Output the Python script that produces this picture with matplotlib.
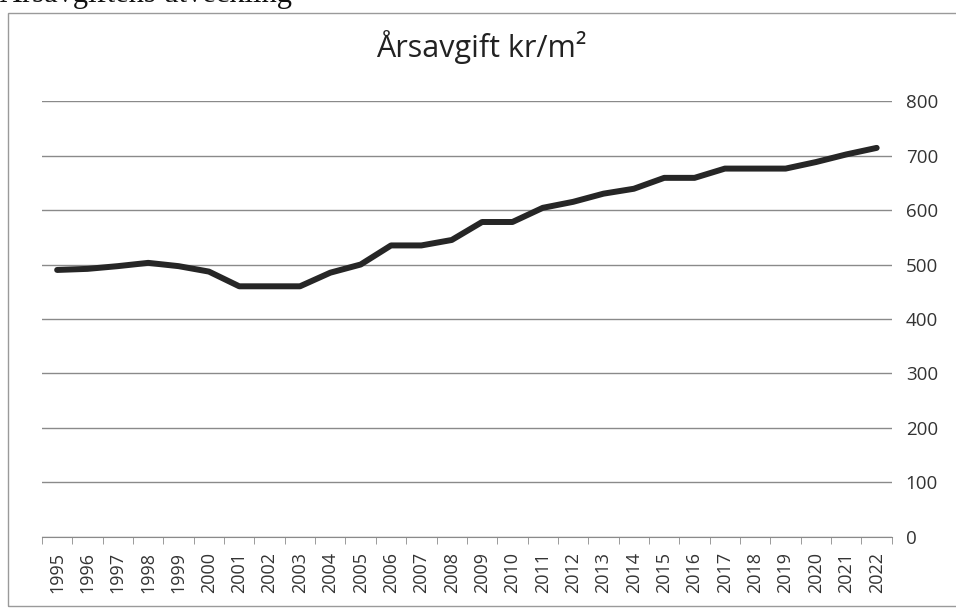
import matplotlib.pyplot as plt
from matplotlib.patches import Rectangle

# Årsavgift kr/m² per år
years = list(range(1995, 2023))
fee = [490, 492, 497, 503, 497, 487, 460, 460, 460, 485, 500, 535, 535, 545,
       578, 578, 604, 615, 630, 639, 659, 659, 676, 676, 676, 688, 702, 714]
yticks = [0, 100, 200, 300, 400, 500, 600, 700, 800]

fig = plt.figure(figsize=(9.56, 6.1), dpi=100)
ax = fig.add_axes([0.0439, 0.1197, 0.889, 0.7147])

x = range(len(years))
ax.plot(x, fee, color='#262626', linewidth=4.3, solid_joinstyle='round',
        solid_capstyle='round', zorder=3)

ax.set_xlim(-0.5, len(years) - 0.5)
ax.set_ylim(0, 800)
ax.set_yticks(yticks)
ax.yaxis.tick_right()
ax.tick_params(axis='y', length=0, pad=10, labelsize=13.5, labelcolor='#333333')
ax.grid(axis='y', color='#8a8a8a', linewidth=1.0)
ax.set_axisbelow(True)

# kategoriaxel: etiketter i mitten, streck mellan kategorierna
ax.set_xticks(list(x))
ax.set_xticklabels([str(y) for y in years], rotation=90, fontsize=13,
                   color='#333333')
ax.tick_params(axis='x', length=0, pad=11)
ax.set_xticks([i - 0.5 for i in range(len(years) + 1)], minor=True)
ax.tick_params(axis='x', which='minor', length=5, color='#8a8a8a')

for s in ['top', 'right', 'left']:
    ax.spines[s].set_visible(False)
ax.spines['bottom'].set_color('#8a8a8a')

for t in ax.get_xticklabels() + ax.get_yticklabels():
    t.set_fontfamily('Open Sans')

fig.text(0.503, 1 - 47 / 610, 'Årsavgift kr/m²', ha='center', va='center',
         fontsize=22, fontfamily='Open Sans', color='#222222')

# ram runt diagrammet
fig.patches.append(Rectangle((8 / 956, 4 / 610), 1.2, 593 / 610,
                             transform=fig.transFigure, fill=False,
                             edgecolor='#9a9a9a', linewidth=1.0))

# rubrik ovanför, delvis utanför bilden
fig.text(0.0, 1 - 2 / 610, 'Årsavgiftens utveckling', ha='left', va='baseline',
         fontsize=22, fontfamily='Liberation Serif', color='#111111')

fig.savefig('out.png', dpi=100)
